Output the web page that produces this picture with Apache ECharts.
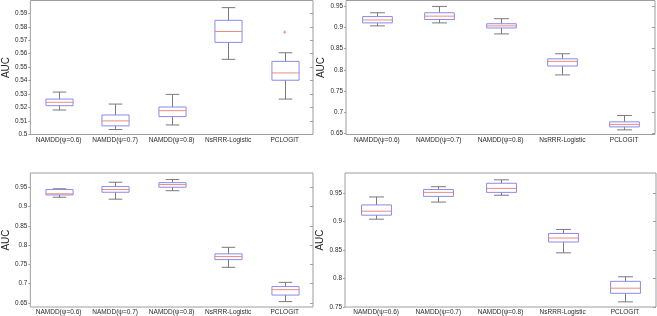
<!DOCTYPE html>
<html><head><meta charset="utf-8">
<script src="https://cdn.jsdelivr.net/npm/echarts@6/dist/echarts.min.js"></script>
<style>html,body{margin:0;padding:0;background:#fff}#c{width:657px;height:316px}</style>
</head><body><div id="c"></div>
<script>
// categories
const categories = ['NAMDD(ψ=0.6)', 'NAMDD(ψ=0.7)', 'NAMDD(ψ=0.8)', 'NsRRR-Logistic', 'PCLOGIT'];
// box stats per panel: [min, q1, median, q3, max]
const panel1 = [
  [0.5182, 0.5214, 0.5239, 0.5263, 0.5315],
  [0.5037, 0.5064, 0.5101, 0.5145, 0.5226],
  [0.5071, 0.5133, 0.5177, 0.5204, 0.5298],
  [0.5558, 0.5684, 0.5765, 0.5848, 0.5942],
  [0.5263, 0.5403, 0.5457, 0.5543, 0.5607]
];
const panel2 = [
  [0.904, 0.911, 0.918, 0.926, 0.935],
  [0.911, 0.919, 0.927, 0.935, 0.950],
  [0.885, 0.899, 0.904, 0.909, 0.921],
  [0.788, 0.809, 0.820, 0.826, 0.838],
  [0.658, 0.665, 0.671, 0.677, 0.692]
];
const panel3 = [
  [0.924, 0.930, 0.933, 0.944, 0.946],
  [0.919, 0.937, 0.944, 0.952, 0.963],
  [0.941, 0.950, 0.957, 0.962, 0.970],
  [0.742, 0.762, 0.770, 0.777, 0.794],
  [0.653, 0.670, 0.684, 0.692, 0.703]
];
const panel4 = [
  [0.904, 0.911, 0.918, 0.929, 0.943],
  [0.934, 0.944, 0.951, 0.956, 0.961],
  [0.946, 0.951, 0.958, 0.967, 0.973],
  [0.845, 0.864, 0.871, 0.879, 0.886],
  [0.759, 0.774, 0.783, 0.795, 0.803]
];
// outliers: [categoryIndex, value]
const outliers1 = [[4, 0.576]];
const outliers2 = [];
const outliers3 = [];
const outliers4 = [];
// y tick labels per panel
const ticks1 = [0.5, 0.51, 0.52, 0.53, 0.54, 0.55, 0.56, 0.57, 0.58, 0.59];
const ticks2 = [0.65, 0.7, 0.75, 0.8, 0.85, 0.9, 0.95];
const ticks3 = [0.65, 0.7, 0.75, 0.8, 0.85, 0.9, 0.95];
const ticks4 = [0.75, 0.8, 0.85, 0.9, 0.95];

const panels = [
  {data: panel1, out: outliers1, ticks: ticks1, min: 0.5, max: 0.5995, grid: {left: 26, top: 0.5, width: 287, height: 134}},
  {data: panel2, out: outliers2, ticks: ticks2, min: 0.647, max: 0.964, grid: {left: 346, top: 0.5, width: 309, height: 134}},
  {data: panel3, out: outliers3, ticks: ticks3, min: 0.639, max: 0.987, grid: {left: 26, top: 173, width: 287, height: 135}},
  {data: panel4, out: outliers4, ticks: ticks4, min: 0.75, max: 0.985, grid: {left: 345, top: 173, width: 311, height: 135}}
];

const FONT = "'Liberation Sans', Arial, Helvetica, sans-serif";
const BOX = '#8a8aea', MED = '#ec8a80', WH = '#7a7a7a', FRAME = '#9e9e9e', TXT = '#2a2a2a';

function renderBox(params, api) {
  const i = api.value(0);
  const mn = api.value(1), q1 = api.value(2), md = api.value(3), q3 = api.value(4), mx = api.value(5);
  const band = api.size([1, 0])[0];
  const bw = band * 0.48, cw = band * 0.24;
  const pMin = api.coord([i, mn]), pQ1 = api.coord([i, q1]), pMd = api.coord([i, md]),
        pQ3 = api.coord([i, q3]), pMx = api.coord([i, mx]);
  const x = Math.round(pMd[0]) + 0.5;
  const ln = (x1, y1, x2, y2, c) => ({type: 'line', shape: {x1, y1, x2, y2}, style: {stroke: c, lineWidth: 1}});
  return {type: 'group', children: [
    ln(x, pMx[1], x, pQ3[1], WH),
    ln(x, pQ1[1], x, pMin[1], WH),
    ln(x - cw / 2, pMx[1], x + cw / 2, pMx[1], WH),
    ln(x - cw / 2, pMin[1], x + cw / 2, pMin[1], WH),
    {type: 'rect', shape: {x: x - bw / 2, y: pQ3[1], width: bw, height: pQ1[1] - pQ3[1]},
     style: {stroke: BOX, fill: null, lineWidth: 1}},
    ln(x - bw / 2, pMd[1], x + bw / 2, pMd[1], MED)
  ]};
}
function renderOut(params, api) {
  const p = api.coord([api.value(0), api.value(1)]);
  const s = 1.5;
  return {type: 'group', children: [
    {type: 'line', shape: {x1: p[0] - s, y1: p[1], x2: p[0] + s, y2: p[1]}, style: {stroke: MED, lineWidth: 1}},
    {type: 'line', shape: {x1: p[0], y1: p[1] - s, x2: p[0], y2: p[1] + s}, style: {stroke: MED, lineWidth: 1}}
  ]};
}

const option = {animation: false, grid: [], xAxis: [], yAxis: [], series: []};
panels.forEach((p, k) => {
  option.grid.push(Object.assign({show: true, borderColor: FRAME, borderWidth: 1, backgroundColor: '#fff'}, p.grid));
  option.xAxis.push({type: 'category', gridIndex: k, data: categories,
    axisLine: {show: false}, axisTick: {show: false},
    axisLabel: {fontFamily: FONT, fontSize: 6.5, color: TXT, margin: 2, interval: 0}});
  option.yAxis.push({type: 'value', gridIndex: k, min: p.min, max: p.max, position: 'left',
    name: 'AUC', nameLocation: 'middle', nameGap: 18,
    nameTextStyle: {fontFamily: FONT, fontSize: 10, color: TXT},
    axisLine: {show: false}, splitLine: {show: false},
    axisTick: {show: true, inside: false, length: 2, customValues: p.ticks, lineStyle: {color: FRAME}},
    axisLabel: {fontFamily: FONT, fontSize: 6.4, color: TXT, margin: 3, customValues: p.ticks}});
  option.yAxis.push({type: 'value', gridIndex: k, min: p.min, max: p.max, position: 'right',
    axisLine: {show: false}, splitLine: {show: false},
    axisTick: {show: true, inside: true, length: 3, customValues: p.ticks, lineStyle: {color: FRAME}},
    axisLabel: {show: false, customValues: p.ticks}});
  option.series.push({type: 'custom', xAxisIndex: k, yAxisIndex: 2 * k, renderItem: renderBox,
    encode: {x: 0, y: [1, 2, 3, 4, 5]},
    data: p.data.map((d, i) => [i].concat(d))});
  option.series.push({type: 'custom', xAxisIndex: k, yAxisIndex: 2 * k, renderItem: renderOut,
    encode: {x: 0, y: 1}, data: p.out});
});
const chart = echarts.init(document.getElementById('c'), null, {renderer: 'canvas'});
chart.setOption(option);
</script></body></html>
